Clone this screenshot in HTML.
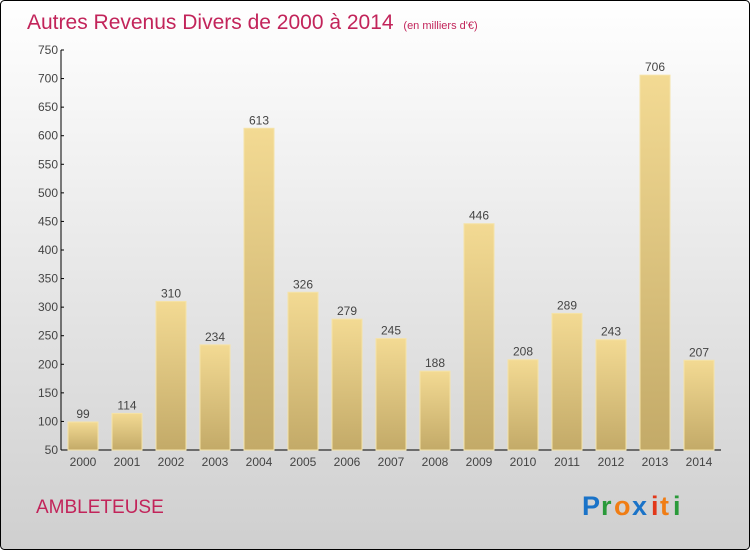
<!DOCTYPE html>
<html><head><meta charset="utf-8"><style>
body{margin:0;width:750px;height:550px;overflow:hidden}
svg text{font-family:"Liberation Sans",sans-serif}
</style></head><body>
<svg width="750" height="550">
<defs>
<linearGradient id="bg" x1="0" y1="0" x2="0" y2="1"><stop offset="0" stop-color="#ffffff"/><stop offset="1" stop-color="#cfcfcf"/></linearGradient>
<linearGradient id="bar" x1="0" y1="0" x2="0" y2="1"><stop offset="0" stop-color="#f3da93"/><stop offset="1" stop-color="#c3aa68"/></linearGradient>
</defs>
<rect x="0.5" y="0.5" width="749" height="549" rx="4" fill="url(#bg)" stroke="#000"/>
<text x="27" y="29" font-size="21" fill="#c2245a">Autres Revenus Divers de 2000 à 2014 <tspan font-size="11" dx="4">(en milliers d'€)</tspan></text>
<g id="ax"></g><g id="bars"></g>
<text x="36" y="513" font-size="19" fill="#c2245a">AMBLETEUSE</text>
<g font-size="27" font-weight="bold">
<text x="582" y="515" fill="#1a73c8">P</text><text x="601" y="515" fill="#2a9a3a">r</text><text x="614" y="515" fill="#f07d14">o</text><text x="632" y="515" fill="#1a73c8">x</text><text x="651" y="515" fill="#e2381a">i</text><text x="660" y="515" fill="#f07d14">t</text><text x="673" y="515" fill="#2a9a3a">i</text>
</g>
</svg>
<script>
const years=["2000","2001","2002","2003","2004","2005","2006","2007","2008","2009","2010","2011","2012","2013","2014"];
const values=[99,114,310,234,613,326,279,245,188,446,208,289,243,706,207];
const ticks=[50,100,150,200,250,300,350,400,450,500,550,600,650,700,750];
const NS="http://www.w3.org/2000/svg";
function y(v){return 450-(v-50)*400/700;}
function x(i){return 83+i*44;}
function mk(t,a,p){const e=document.createElementNS(NS,t);for(const k in a)e.setAttribute(k,a[k]);p.appendChild(e);return e;}
const ax=document.getElementById('ax'),bg=document.getElementById('bars');
let l=mk('line',{x1:61,y1:50,x2:61,y2:450,stroke:'#000'},ax);


l=mk('line',{x1:61,y1:450,x2:721,y2:450,stroke:'#000'},ax);


ticks.forEach(t=>{
 mk('line',{x1:61,y1:y(t),x2:64,y2:y(t),stroke:'#000'},ax);
 const tx=mk('text',{x:58,y:y(t)+4,'text-anchor':'end','font-size':12,fill:'#444'},ax);
 tx.textContent=t;
 
 
});
years.forEach((yr,i)=>{
 const v=values[i];
 const r=mk('rect',{x:x(i)-15,y:y(v),width:30,height:450-y(v),fill:'url(#bar)',stroke:'#f5e3a8','stroke-width':1},bg);
 
 
 const lb=mk('text',{x:x(i),y:y(v)-4,'text-anchor':'middle','font-size':12,fill:'#444'},bg);
 lb.textContent=v;
 
 
 const xl=mk('text',{x:x(i),y:466,'text-anchor':'middle','font-size':12,fill:'#444'},ax);
 xl.textContent=yr;
 
 
});
</script>
</body></html>
